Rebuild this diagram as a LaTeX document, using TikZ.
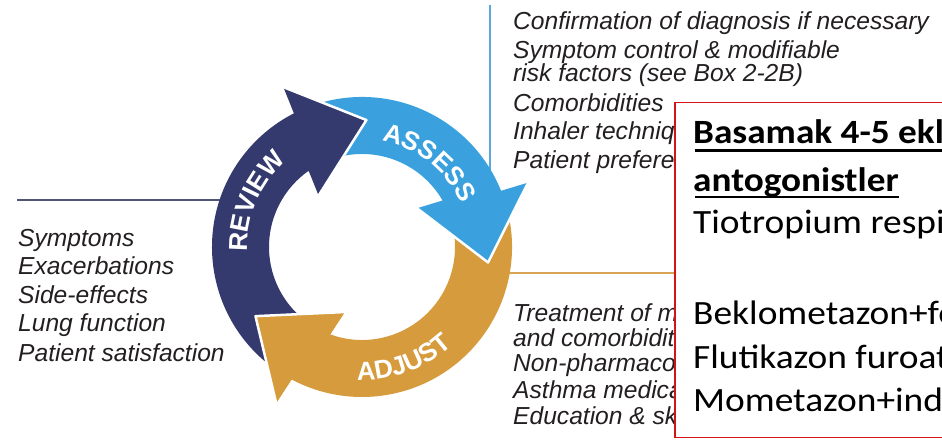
\documentclass[tikz,border=0pt]{standalone}
\usepackage{fontspec}
\setmainfont{Liberation Sans}
\newfontfamily\boxfont[FakeStretch=1.10]{Carlito}
\newfontfamily\boxboldfont[FakeStretch=1.095]{Carlito}
\usetikzlibrary{calc,decorations.text}

\definecolor{navyA}{RGB}{52,57,110}
\definecolor{blueA}{RGB}{58,161,222}
\definecolor{goldA}{RGB}{213,155,60}
\definecolor{lineNavy}{RGB}{80,86,120}
\definecolor{lineBlue}{RGB}{90,168,220}
\definecolor{lineGold}{RGB}{214,164,82}
\definecolor{txtgray}{RGB}{35,31,32}
\definecolor{boxred}{RGB}{210,20,20}

\newcommand\arcfont{\fontsize{26}{26}\selectfont\bfseries}

% color, tail angle, head-base angle, tip angle
\newcommand\cyclearrow[4]{%
  \pgfmathsetmacro\ca{#3-3}%
  \pgfmathsetmacro\ci{#3+5}%
  \coordinate (B) at ($(C)+(#3:122)$);
  \coordinate (T) at ($(C)+(#4:127)$);
  \coordinate (OB) at ($(B)!57pt!90:(T)$);
  \coordinate (IB) at ($(B)!57pt!-90:(T)$);
  \coordinate (OC) at ($(C)+(\ca:150)$);
  \coordinate (IC) at ($(C)+(\ci:93)$);
  \fill[#1] ($(C)+(#2:150)$) arc[start angle=#2, end angle=\ca, radius=150]
     -- (OB) -- (T) -- (IB) -- (IC) arc[start angle=\ci, end angle=#2, radius=93] -- cycle;
  \draw[headgap] (OB) -- (T) -- (IB);
}
\newcommand\headagain[3]{%
  \pgfmathsetmacro\ca{#2-3}%
  \pgfmathsetmacro\ci{#2+5}%
  \coordinate (B) at ($(C)+(#2:122)$);
  \coordinate (T) at ($(C)+(#3:127)$);
  \coordinate (OB) at ($(B)!57pt!90:(T)$);
  \coordinate (IB) at ($(B)!57pt!-90:(T)$);
  \coordinate (OC) at ($(C)+(\ca:150)$);
  \coordinate (IC) at ($(C)+(\ci:93)$);
  \fill[#1] (OC) -- (OB) -- (T) -- (IB) -- (IC) -- cycle;
  \draw[headgap] (OB) -- (T) -- (IB);
}

\begin{document}
\begin{tikzpicture}[x=1pt,y=1pt,
  item/.style={anchor=base west, inner sep=0pt, text=txtgray,
    font={\fontsize{24.6}{24.6}\selectfont\itshape}},
  boxline/.style={anchor=base west, inner sep=0pt, text=black,
    font={\boxfont\fontsize{34}{34}\selectfont}},
  boxhead/.style={boxline, font={\boxboldfont\fontsize{34}{34}\selectfont\bfseries}},
  headgap/.style={white, line width=2.5pt, line join=round},
  guide/.style={line width=2pt},
  arctext/.style={decorate, decoration={text along path, text align=center, text color=white}}
]
\useasboundingbox (0,0) rectangle (942,443);
\fill[white] (0,0) rectangle (942,443);
\clip (0,0) rectangle (942,443);
\coordinate (C) at (362,196);

% guide lines
\coordinate (gnA) at (17,243);  \coordinate (gnB) at (235,243);
\coordinate (gbA) at (490,438); \coordinate (gbB) at (490,262);
\coordinate (ggA) at (500,170); \coordinate (ggB) at (690,170);
\draw[guide, lineNavy] (gnA) -- (gnB);
\draw[guide, lineBlue] (gbA) -- (gbB);
\draw[guide, lineGold] (ggA) -- (ggB);

% cycle arrows
\cyclearrow{goldA}{15}{-115}{-147}
\cyclearrow{blueA}{110}{25}{-7}
\cyclearrow{navyA}{235}{120}{88}
\headagain{goldA}{-115}{-147}

% arc labels
\path[arctext, decoration={text={|\arcfont|REVIEW}}]
  ($(C)+(201.8:114.7)$) arc[start angle=201.8, end angle=111.8, radius=114.7];
\path[arctext, decoration={text={|\arcfont|ASSESS}}]
  ($(C)+(96.5:108)$) arc[start angle=96.5, end angle=6.5, radius=108];
\path[arctext, decoration={text={|\arcfont|ADJUST}}]
  ($(C)+(-114.8:133.3)$) arc[start angle=-114.8, end angle=-24.8, radius=133.3];

% left block
\node[item] (r1) at (18,196.3) {Symptoms};
\node[item] (r2) at (18,168) {Exacerbations};
\node[item] (r3) at (18,139.7) {Side-effects};
\node[item] (r4) at (18,111.3) {Lung function};
\node[item] (r5) at (18,81.3) {Patient satisfaction};

% top right block
\node[item] (a1) at (513,413.5) {Confirmation of diagnosis if necessary};
\node[item] (a2) at (513,384.5) {Symptom control \& modifiable};
\node[item] (a3) at (513,361) {risk factors (see Box 2-2B)};
\node[item] (a4) at (513,331.5) {Comorbidities};
\node[item] (a5) at (513,303) {Inhaler technique \& adherence};
\node[item] (a6) at (513,274.5) {Patient preferences and goals};

% bottom right block
\node[item] (d1) at (513,121.3) {Treatment of modifiable risk factors};
\node[item] (d2) at (513,96.3) {and comorbidities};
\node[item] (d3) at (513,71.3) {Non-pharmacological strategies};
\node[item] (d4) at (513,44.7) {Asthma medications (adjust down or up)};
\node[item] (d5) at (513,18) {Education \& skills training};

% red overlay box
\node[draw=boxred, fill=white, line width=1.6pt, inner sep=0pt, anchor=north west,
      minimum width=300pt, minimum height=335pt] (box) at (674,341.3) {};
\node[boxhead] (b1) at (693,299.7) {Basamak 4-5 ekle};
\node[boxhead] (b2) at (693,251.3) {antogonistler};
\node[boxline] (b3) at (693,209.7) {Tiotropium respimat};
\node[boxline] (b4) at (693,118.5) {Beklometazon+formoterol};
\node[boxline] (b5) at (693,74.5) {Flutikazon furoat};
\node[boxline] (b6) at (693,31) {Mometazon+indakaterol};
\draw[line width=2.4pt] ($(b1.base west)+(2,-7.4)$) -- ($(b1.base east)+(0,-7.4)$);
\draw[line width=2.4pt] ($(b2.base west)+(2,-5.6)$) -- ($(b2.base east)+(0,-5.6)$);
\end{tikzpicture}
\end{document}
